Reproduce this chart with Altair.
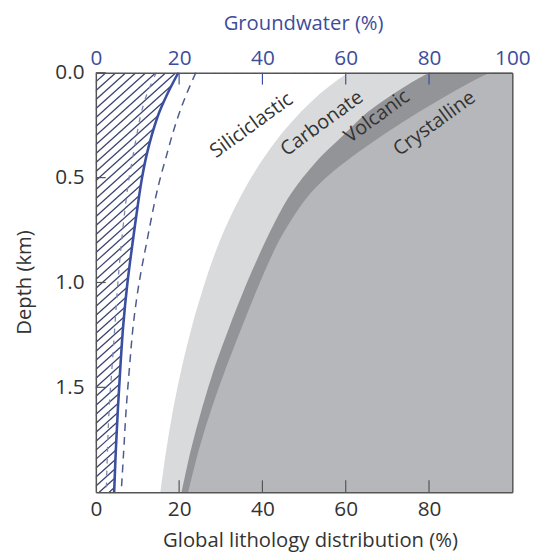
import altair as alt
import pandas as pd

# ---------------- data ----------------
depth = [0.0, 0.05, 0.1, 0.15, 0.2, 0.3, 0.4, 0.5, 0.6, 0.7, 0.8, 0.9, 1.0, 1.2, 1.4, 1.6, 1.8, 2.0]
siliciclastic_edge = [60.5, 57.0, 53.8, 51.1, 48.6, 44.2, 40.5, 37.3, 34.5, 32.0, 29.8, 27.9, 26.2, 23.2, 20.7, 18.6, 16.9, 15.5]
carbonate_edge = [80.0, 75.5, 71.5, 67.8, 64.5, 59.3, 54.0, 49.7, 46.1, 43.3, 40.8, 38.5, 36.3, 32.3, 28.6, 25.5, 22.8, 20.6]
volcanic_edge = [94.5, 89.5, 85.0, 80.7, 76.5, 68.7, 61.5, 55.3, 50.5, 47.0, 44.0, 41.6, 39.4, 35.3, 31.4, 27.8, 24.7, 22.2]

gw_depth = [0.0, 0.1, 0.2, 0.3, 0.4, 0.5, 0.6, 0.8, 1.0, 1.2, 1.4, 1.6, 1.8, 2.0]
gw_mean = [19.8, 17.2, 15.0, 13.4, 12.1, 11.1, 10.3, 8.9, 7.6, 6.6, 5.9, 5.3, 4.8, 4.4]
gw_high = [24.0, 21.8, 19.9, 18.3, 16.9, 15.5, 14.3, 12.3, 10.4, 9.0, 8.1, 7.3, 6.7, 6.1]
gw_low = [14.5, 12.3, 10.8, 9.8, 8.9, 8.0, 7.3, 6.2, 5.3, 4.6, 3.9, 3.2, 2.8, 2.5]

label_names = ["Siliciclastic", "Carbonate", "Volcanic", "Crystalline"]
label_x = [37.4, 54.3, 67.5, 81.3]
label_depth = [0.251, 0.242, 0.209, 0.242]

depth_ticks = [0.0, 0.5, 1.0, 1.5]
bottom_ticks = [0, 20, 40, 60, 80]
top_ticks = [0, 20, 40, 60, 80, 100]

# ---------------- styling ----------------
W, H = 422, 425
FONT = "Open Sans"
BLUE = "#3d4c9c"
TEXT = "#333333"
AX = "#555555"
HATCH = "#3a4270"
FS = 21
TFS = 20.5

hatch_step = 2.4
hatch_run = 112.0
hatch_start = [-hatch_run + i * hatch_step for i in range(int((hatch_run + 25) / hatch_step) + 1)]
hatch_df = pd.DataFrame({
    "x0": hatch_start,
    "x1": [s + hatch_run for s in hatch_start],
    "d0": [2.0] * len(hatch_start),
    "d1": [0.0] * len(hatch_start),
})

litho = pd.DataFrame({
    "depth": depth,
    "sil": siliciclastic_edge,
    "carb": carbonate_edge,
    "volc": volcanic_edge,
    "right": [100.0] * len(depth),
})
gw = pd.DataFrame({
    "depth": gw_depth,
    "mean": gw_mean,
    "high": gw_high,
    "low": gw_low,
    "right": [100.0] * len(gw_depth),
})
labels = pd.DataFrame({"name": label_names, "x": label_x, "depth": label_depth})

xs = alt.Scale(domain=[0, 100], nice=False, zero=False)
ys = alt.Scale(domain=[0, 2.0], nice=False, zero=False, reverse=True)

common_axis = dict(
    labelFont=FONT, labelFontSize=FS, labelOverlap=False, labelFlush=False,
    ticks=False, grid=False, domain=True, domainColor=AX, domainWidth=1.5,
    titleFont=FONT, titleFontSize=TFS, titleFontWeight="normal", zindex=1,
)

left_axis = alt.Axis(
    orient="left", values=depth_ticks, format=".1f", labelColor=TEXT, labelPadding=12,
    title="Depth (km)", titleColor=TEXT, titleX=-72, titleY=212, titleAngle=270,
    titleBaseline="middle", titleAlign="center", **common_axis,
)
bottom_axis = alt.Axis(
    orient="bottom", values=bottom_ticks, format="d", labelColor=TEXT, labelPadding=7,
    title="Global lithology distribution (%)", titleColor=TEXT, titleX=217, titleY=49,
    titleBaseline="middle", titleAlign="center", **common_axis,
)
top_axis = alt.Axis(
    orient="top", values=top_ticks, format="d", labelColor=BLUE, labelPadding=4,
    title="Groundwater (%)", titleColor=BLUE, titleX=210, titleY=-50,
    titleBaseline="middle", titleAlign="center", **common_axis,
)
right_axis = alt.Axis(
    orient="right", labels=False, title=None, ticks=False, grid=False, domain=True,
    domainColor=AX, domainWidth=1.5, zindex=1,
)

hatch = alt.Chart(hatch_df).mark_rule(clip=True, stroke=HATCH, strokeWidth=1.3).encode(
    x=alt.X("x0:Q", scale=xs, axis=None), x2="x1:Q",
    y=alt.Y("d0:Q", scale=ys, axis=None), y2="d1:Q",
)

white = alt.Chart(gw).mark_area(orient="horizontal", interpolate="catmull-rom", color="white").encode(
    y=alt.Y("depth:Q", scale=ys, axis=left_axis),
    x=alt.X("mean:Q", scale=xs, axis=bottom_axis), x2=alt.X2("right"),
)


def band(field, colour):
    return alt.Chart(litho).mark_area(orient="horizontal", interpolate="catmull-rom", color=colour).encode(
        y=alt.Y("depth:Q", scale=ys, axis=None),
        x=alt.X(f"{field}:Q", scale=xs, axis=None), x2=alt.X2("right"),
    )


light = band("sil", "#d9dadc")
dark = band("carb", "#939497")
cryst = band("volc", "#b6b7ba")

low_line = alt.Chart(gw).mark_line(interpolate="catmull-rom", color="#7d87b0", strokeWidth=1.3, strokeDash=[5, 7]).encode(
    y=alt.Y("depth:Q", scale=ys, axis=None), x=alt.X("low:Q", scale=xs, axis=None), order=alt.Order("depth:Q"),
)
high_line = alt.Chart(gw).mark_line(interpolate="catmull-rom", color="#4c5a8c", strokeWidth=1.5, strokeDash=[8, 6]).encode(
    y=alt.Y("depth:Q", scale=ys, axis=None), x=alt.X("high:Q", scale=xs, axis=None), order=alt.Order("depth:Q"),
)
mean_line = alt.Chart(gw).mark_line(interpolate="catmull-rom", color="#3b4fa0", strokeWidth=2.6).encode(
    y=alt.Y("depth:Q", scale=ys, axis=right_axis), x=alt.X("mean:Q", scale=xs, axis=top_axis), order=alt.Order("depth:Q"),
)

texts = alt.Chart(labels).mark_text(font=FONT, fontSize=20, color=TEXT, angle=324, align="center", baseline="middle").encode(
    x=alt.X("x:Q", scale=xs, axis=None), y=alt.Y("depth:Q", scale=ys, axis=None), text="name:N",
)

left_tk = alt.Chart(pd.DataFrame({"v": depth_ticks})).mark_rule(color=AX, strokeWidth=1.2).encode(
    y=alt.Y("v:Q", scale=ys, axis=None), x=alt.value(0), x2=alt.value(10),
)
bottom_tk = alt.Chart(pd.DataFrame({"v": bottom_ticks[1:]})).mark_rule(color=AX, strokeWidth=1.2).encode(
    x=alt.X("v:Q", scale=xs, axis=None), y=alt.value(H), y2=alt.value(H - 12),
)
top_tk = alt.Chart(pd.DataFrame({"v": top_ticks[1:-1]})).mark_rule(color=BLUE, strokeWidth=1.2).encode(
    x=alt.X("v:Q", scale=xs, axis=None), y=alt.value(0), y2=alt.value(12),
)

chart = alt.layer(
    hatch, white, light, dark, cryst, low_line, high_line, mean_line, texts, left_tk, bottom_tk, top_tk,
).resolve_axis(x="independent", y="independent").properties(
    width=W, height=H,
    autosize=alt.AutoSizeParams(type="none"),
    padding={"left": 89, "top": 62, "right": 24, "bottom": 58},
).configure_view(stroke=None)

chart.save("out.html", embed_options={"renderer": "svg", "actions": False})
